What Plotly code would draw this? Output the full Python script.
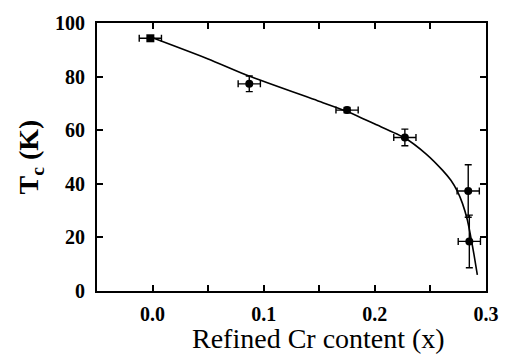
import plotly.graph_objects as go

# Measured transition temperatures vs refined Cr content
cr_content = [-0.002, 0.087, 0.175, 0.227, 0.284, 0.285]
tc_kelvin = [94.3, 77.3, 67.5, 57.3, 37.3, 18.5]
cr_err = [0.010, 0.010, 0.010, 0.010, 0.010, 0.010]
tc_err = [0.0, 2.9, 1.0, 3.1, 9.8, 9.8]
marker_symbols = ["square", "circle", "circle", "circle", "circle", "circle"]

# Guide curve through the data
fit_x = [0.0, 0.05, 0.0862, 0.1484, 0.175, 0.2, 0.227, 0.2462, 0.261,
         0.2684, 0.2744, 0.2788, 0.2833, 0.2862, 0.2892, 0.2922]
fit_y = [94.5, 86.6, 80.3, 71.0, 67.0, 62.3, 57.1, 51.1, 45.0,
         41.3, 37.1, 32.7, 26.4, 20.4, 13.6, 6.0]

x_tickvals = [0.0, 0.1, 0.2, 0.3]
x_ticktext = ["0.0", "0.1", "0.2", "0.3"]
y_tickvals = [0, 20, 40, 60, 80, 100]

FONT = "Liberation Serif, Times New Roman, serif"

fig = go.Figure()

fig.add_trace(go.Scatter(
    x=fit_x, y=fit_y, mode="lines",
    line=dict(color="black", width=1.6, shape="spline", smoothing=0.6),
    hoverinfo="skip", showlegend=False,
))

fig.add_trace(go.Scatter(
    x=cr_content, y=tc_kelvin, mode="markers",
    marker=dict(color="black", size=8, symbol=marker_symbols),
    error_x=dict(type="data", array=cr_err, color="black", thickness=1.4, width=3.5),
    error_y=dict(type="data", array=tc_err, color="black", thickness=1.4, width=3.5),
    showlegend=False,
))

tick_font = dict(family=FONT, size=20, color="black", weight="bold")

axis_common = dict(
    showline=True, linecolor="black", linewidth=2, mirror="ticks",
    ticks="inside", ticklen=6, tickwidth=1.6, tickcolor="black",
    showgrid=False, zeroline=False,
    tickfont=tick_font,
)

fig.update_xaxes(
    range=[-0.05, 0.3], tickvals=x_tickvals, ticktext=x_ticktext,
    minor=dict(dtick=0.05, tick0=0, ticks="inside", ticklen=6,
               tickwidth=1.6, tickcolor="black"),
    ticklabelstandoff=4,
    **axis_common,
)
fig.update_yaxes(
    range=[0, 100], tickvals=y_tickvals,
    title=dict(text="T<sub>c</sub> (K)",
               font=dict(family=FONT, size=28, color="black", weight="bold"),
               standoff=8),
    ticklabelstandoff=6,
    **axis_common,
)

# x-axis caption, placed slightly right of the plot centre
fig.add_annotation(
    text="Refined Cr content (x)", xref="paper", yref="paper",
    x=0.570, y=-0.179, xanchor="center", yanchor="middle",
    showarrow=False, font=dict(family=FONT, size=28, color="black"),
)

fig.update_layout(
    width=511, height=359,
    margin=dict(l=97, r=21, t=15, b=68),
    paper_bgcolor="white", plot_bgcolor="white",
    font=dict(family=FONT, color="black"),
)

fig.write_html("out.html")
